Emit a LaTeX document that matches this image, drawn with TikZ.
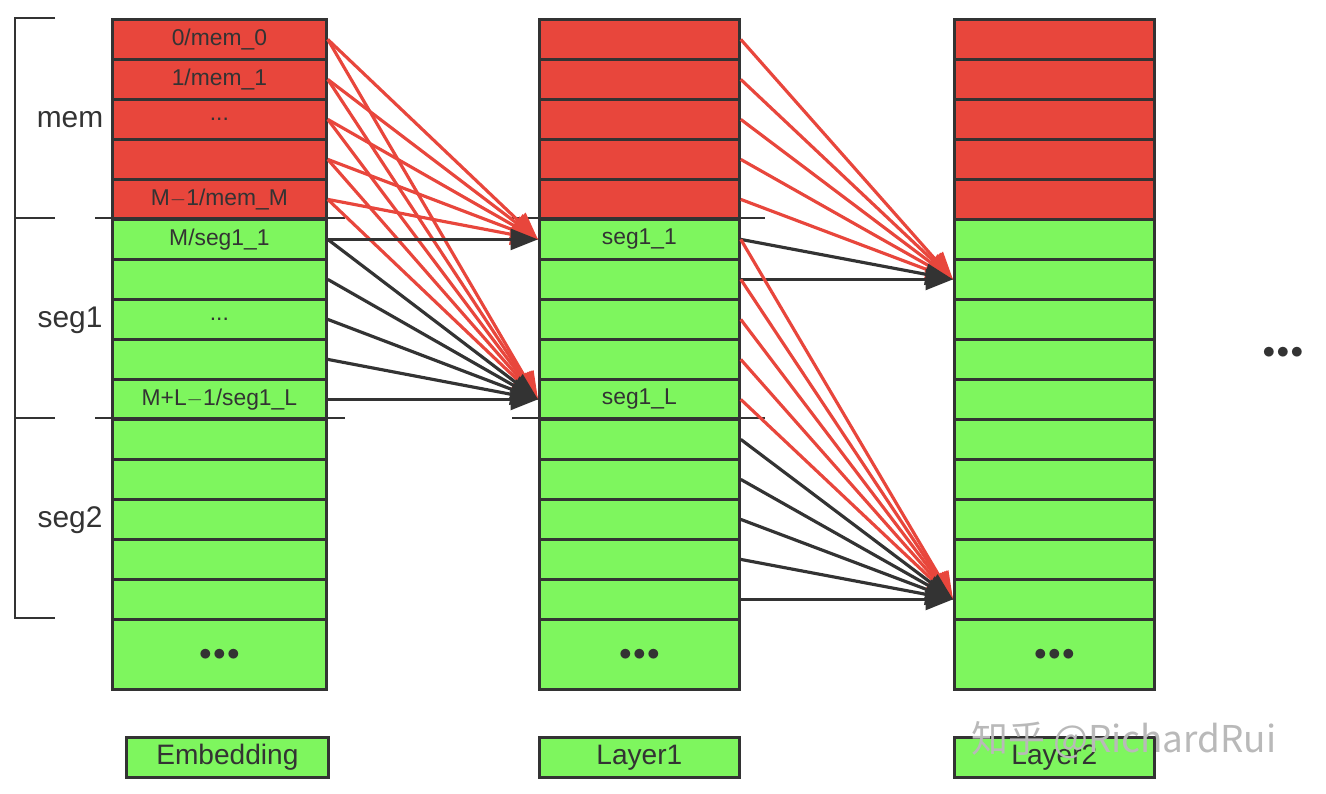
\documentclass[tikz,border=0pt]{standalone}
\usepackage{fontspec}
\setmainfont{Liberation Sans}
\usetikzlibrary{arrows.meta}
\definecolor{memred}{HTML}{E8463C}
\definecolor{seggreen}{HTML}{7EF65E}
\definecolor{edge}{HTML}{333333}
\tikzset{
  cell/.style={draw=edge, line width=1.6pt, minimum width=#1, minimum height=0.8cm,
    inner sep=0pt, font=\fontsize{13}{15}\selectfont, text=edge, anchor=north west},
  tag/.style={font=\fontsize{17}{19}\selectfont, text=edge},
  redarr/.style={draw=memred, line width=1.8pt, -{Triangle[length=0.55cm,width=0.42cm]}},
  blkarr/.style={draw=edge, line width=1.8pt, -{Triangle[length=0.55cm,width=0.42cm]}}
}
\begin{document}
\begin{tikzpicture}[x=0.02cm,y=-0.02cm]
  \useasboundingbox (0,0) rectangle (1326,794);
  % columns of cells
  \foreach \col/\xx/\ww in {1/111/4.28cm, 2/538/4cm, 3/953/4cm} {
    \foreach \r in {0,...,14} {
      \ifnum\r<5 \def\fc{memred}\else\def\fc{seggreen}\fi
      \node[cell=\ww, fill=\fc] (c\col r\r) at (\xx,18+40*\r) {};
    }
    \node[cell=\ww, fill=seggreen, minimum height=1.4cm, font=\fontsize{15}{17}\selectfont]
      (c\col last) at (\xx,618) {$\bullet\!\bullet\!\bullet$};
  }
  % cell texts
  \node at (c1r0) [text=edge, font=\fontsize{13}{15}\selectfont] {0/mem\_0};
  \node at (c1r1) [text=edge, font=\fontsize{13}{15}\selectfont] {1/mem\_1};
  \node at (c1r2) [text=edge, font=\fontsize{13}{15}\selectfont] {...};
  \node at (c1r4) [text=edge, font=\fontsize{13}{15}\selectfont] {M$-$1/mem\_M};
  \node at (c1r5) [text=edge, font=\fontsize{13}{15}\selectfont] {M/seg1\_1};
  \node at (c1r7) [text=edge, font=\fontsize{13}{15}\selectfont] {...};
  \node at (c1r9) [text=edge, font=\fontsize{13}{15}\selectfont] {M+L$-$1/seg1\_L};
  \node at (c2r5) [text=edge, font=\fontsize{13}{15}\selectfont] {seg1\_1};
  \node at (c2r9) [text=edge, font=\fontsize{13}{15}\selectfont] {seg1\_L};

  % bracket and separators
  \draw[edge, line width=1.6pt] (55,18) -- (15,18) -- (15,618) -- (55,618);
  \draw[edge, line width=1.6pt] (15,218) -- (55,218) (15,418) -- (55,418);
  \draw[edge, line width=1.6pt] (95,218) -- (345,218) (95,418) -- (345,418);
  \draw[edge, line width=1.6pt] (512,218) -- (765,218) (512,418) -- (765,418);
  \node[tag] (mem) at (70,120) {mem};
  \node[tag] (seg1) at (70,320) {seg1};
  \node[tag] (seg2) at (70,520) {seg2};

  % embedding -> layer1
  \foreach \r in {0,...,4} {
    \draw[redarr] (c1r\r.east) -- (c2r5.west);
    \draw[redarr] (c1r\r.east) -- (c2r9.west);
  }
  \draw[blkarr] (c1r5.east) -- (c2r5.west);
  \foreach \r in {5,...,9} \draw[blkarr] (c1r\r.east) -- (c2r9.west);

  % layer1 -> layer2
  \foreach \r in {0,...,4} \draw[redarr] (c2r\r.east) -- (c3r6.west);
  \foreach \r in {5,6} \draw[blkarr] (c2r\r.east) -- (c3r6.west);
  \foreach \r in {5,...,9} \draw[redarr] (c2r\r.east) -- (c3r14.west);
  \foreach \r in {10,...,14} \draw[blkarr] (c2r\r.east) -- (c3r14.west);

  \node[font=\fontsize{15}{17}\selectfont, text=edge] (more) at (1283,353) {$\bullet\!\bullet\!\bullet$};

  % bottom labels
  \node[cell=4.04cm, fill=seggreen, font=\fontsize{16}{18}\selectfont] (emb) at (125,736) {Embedding};
  \node[cell=4cm, fill=seggreen, font=\fontsize{16}{18}\selectfont] (lay1) at (538,736) {Layer1};
  \node[cell=4cm, fill=seggreen, font=\fontsize{16}{18}\selectfont] (lay2) at (953,736) {Layer2};
  \newfontfamily\cjk{Noto Sans CJK SC}
  \node[text=gray!55, font=\cjk\fontsize{21}{23}\selectfont, anchor=west] (mark) at (965,740) {知乎 @RichardRui};
\end{tikzpicture}
\end{document}
